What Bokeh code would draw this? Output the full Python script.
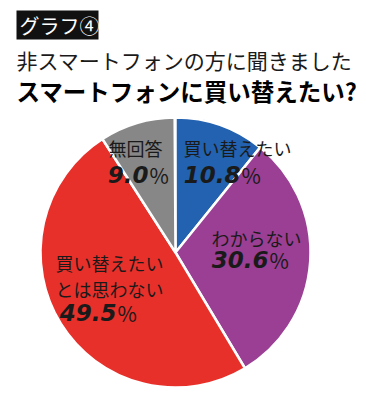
import math
from bokeh.plotting import figure
from bokeh.models import Range1d, ColumnDataSource
from bokeh.core.properties import value
from bokeh.embed import file_html
from bokeh.resources import INLINE

# ---- data ----
categories = ["買い替えたい", "わからない", "買い替えたいとは思わない", "無回答"]
label_lines = [["買い替えたい"], ["わからない"], ["買い替えたい", "とは思わない"], ["無回答"]]
shares = [10.8, 30.6, 49.5, 9.0]
colors = ["#2262b0", "#9a3f94", "#e8302a", "#878787"]
badge_text = "グラフ④"
subtitle = "非スマートフォンの方に聞きました"
title = "スマートフォンに買い替えたい?"

W, H = 366, 400
JP = "Noto Sans CJK JP"
NUM = "DejaVu Sans"
INK = "#1a1a1a"

p = figure(width=W, height=H, x_range=Range1d(0, W), y_range=Range1d(0, H),
           output_backend="svg", toolbar_location=None, min_border=0)
p.axis.visible = False
p.grid.visible = False
p.outline_line_color = None
p.background_fill_color = "white"

# pie geometry (screen-pixel data units)
cx, cy, r = 175, 148, 135
starts, ends = [], []
a = math.pi / 2
for s in shares:
    starts.append(a)
    a -= s / 100 * 2 * math.pi
    ends.append(a)
src = ColumnDataSource(dict(start=starts, end=ends, color=colors, cat=categories))
p.wedge(x=cx, y=cy, radius=r, start_angle="start", end_angle="end", direction="clock",
        fill_color="color", line_color="white", line_width=2.5, source=src)

# label layout: (left x of name, first line y, split x of number, number y)
layout = [
    (183, 253, 240, 226),
    (211, 163, 268, 141),
    (55, 138, 116, 88),
    (108, 253, 148, 226),
]
for lines, s, (lx, ly, nx, ny) in zip(label_lines, shares, layout):
    for i, ln in enumerate(lines):
        p.text(x=[lx], y=[ly - i * 26], text=[ln], text_font=value(JP), text_font_size="18px",
               text_color=INK, text_baseline="middle", text_align="left")
    p.text(x=[nx], y=[ny], text=[f"{s:.1f}"], text_font=value(NUM), text_font_size="23px",
           text_font_style="bold italic", text_color=INK, text_baseline="middle", text_align="right")
    p.text(x=[nx + 1], y=[ny], text=["%"], text_font=value(JP), text_font_size="21px",
           text_font_style="normal", text_color=INK, text_baseline="middle", text_align="left")

# header
p.quad(left=[16], right=[98], bottom=[361], top=[390], fill_color="#111111", line_color=None)
p.text(x=[19], y=[375], text=[badge_text], text_font=value(JP), text_font_size="20px",
       text_color="white", text_baseline="middle", text_align="left")
p.text(x=[16], y=[341], text=[subtitle], text_font=value(JP), text_font_size="21px",
       text_color=INK, text_baseline="middle", text_align="left")
p.text(x=[16], y=[310], text=[title], text_font=value(JP), text_font_size="23.5px",
       text_font_style="bold", text_color="#000000", text_baseline="middle", text_align="left")

open("out.html", "w").write(file_html(p, INLINE))
